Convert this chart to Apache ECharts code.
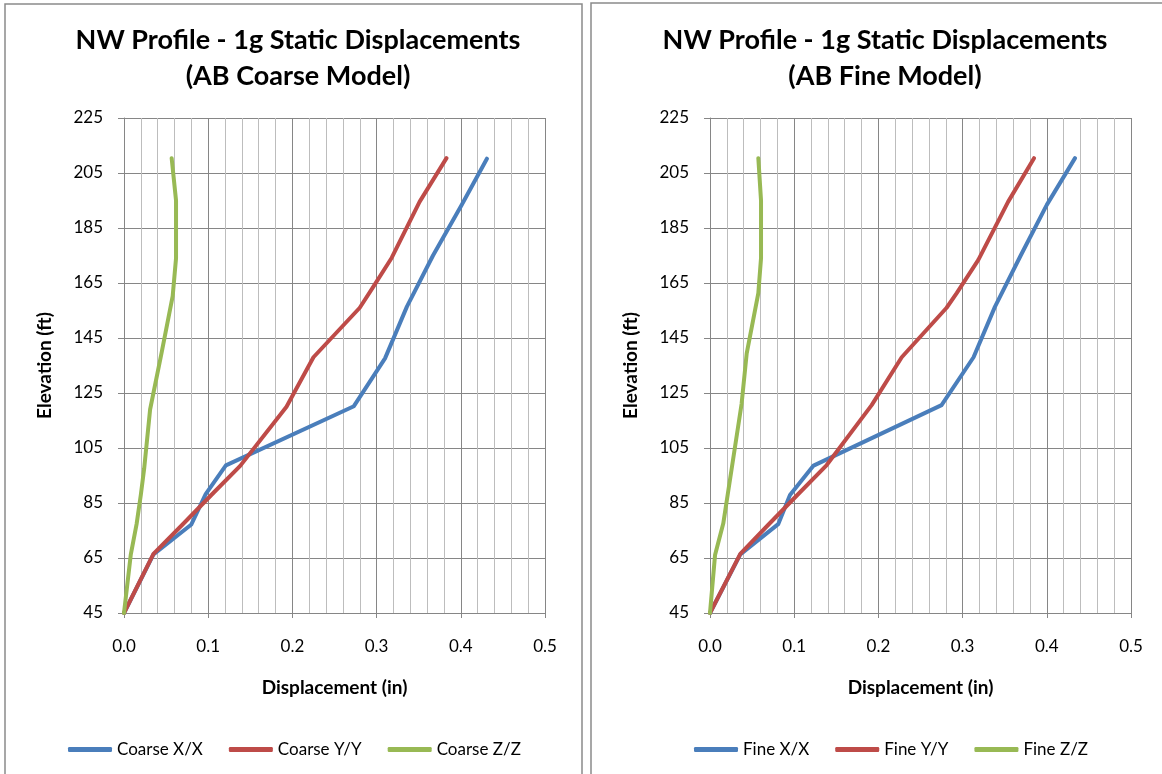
<!DOCTYPE html>
<html>
<head>
<meta charset="utf-8">
<script src="https://cdn.jsdelivr.net/npm/echarts@6/dist/echarts.min.js"></script>
<style>
html,body{margin:0;padding:0;background:#fff;}
#c{width:1162px;height:774px;}
</style>
</head>
<body>
<div id="c"></div>
<script>
// ---- Data (displacement in, elevation ft) ----
const coarseX = [[0,45],[0.035,66.3],[0.080,77.2],[0.097,88.2],[0.121,98.7],[0.273,120.2],[0.310,137.6],[0.336,156.4],[0.367,175],[0.401,193.4],[0.431,210.2]];
const coarseY = [[0,45],[0.035,66.5],[0.069,77],[0.104,88],[0.138,98.5],[0.193,120],[0.225,138],[0.280,156],[0.296,163.6],[0.318,174.2],[0.351,194.5],[0.383,210.4]];
const coarseZ = [[0,45],[0.008,66.1],[0.015,77.4],[0.020,88],[0.024,97.6],[0.031,119],[0.0445,139.4],[0.0578,160.2],[0.0618,174],[0.0618,195],[0.0566,210.4]];

const fineX = [[0,45],[0.036,66.3],[0.081,77.3],[0.095,87.9],[0.123,98.6],[0.275,120.6],[0.313,138],[0.3385,156.4],[0.369,175],[0.400,193.4],[0.4335,210.4]];
const fineY = [[0,45],[0.036,66.5],[0.069,77],[0.104,88],[0.1386,98.8],[0.192,120.6],[0.2277,138],[0.281,156],[0.293,161.3],[0.3187,173.4],[0.354,194.5],[0.3848,210.4]];
const fineZ = [[0,45],[0.006,66.1],[0.0158,77.6],[0.021,88],[0.026,98],[0.0375,121],[0.0436,139.4],[0.0574,161.3],[0.0606,174],[0.0606,195],[0.0574,210.4]];

const titles = ['NW Profile - 1g Static Displacements\n(AB Coarse Model)', 'NW Profile - 1g Static Displacements\n(AB Fine Model)'];
const leftNames = ['Coarse X/X','Coarse Y/Y','Coarse Z/Z'];
const rightNames = ['Fine X/X','Fine Y/Y','Fine Z/Z'];
const xTicks = {min:0, max:0.5, interval:0.1};
const yTicks = {min:45, max:225, interval:20};
const xName = 'Displacement (in)';
const yName = 'Elevation (ft)';

const colors = ['#4A7EBB','#BE4B48','#98B954'];
const FONT = 'Lato, "Open Sans", sans-serif';

function xAxisCfg(gi){
  return {
    type:'value', gridIndex:gi, min:xTicks.min, max:xTicks.max, interval:xTicks.interval,
    name:xName, nameLocation:'middle', nameGap:65,
    nameTextStyle:{fontFamily:FONT, fontWeight:'bold', fontSize:19, color:'#000'},
    axisLine:{show:true, lineStyle:{color:'#868686', width:1}},
    axisTick:{show:true, inside:false, length:5, lineStyle:{color:'#868686'}},
    axisLabel:{margin:25, fontFamily:FONT, fontSize:17, color:'#000', formatter:v=>v.toFixed(1)},
    splitLine:{show:true, lineStyle:{color:'#868686', width:1}},
    minorTick:{show:false, splitNumber:5},
    minorSplitLine:{show:true, lineStyle:{color:'#bdbdbd', width:1}}
  };
}
function yAxisCfg(gi){
  return {
    type:'value', gridIndex:gi, min:yTicks.min, max:yTicks.max, interval:yTicks.interval,
    name:yName, nameLocation:'middle', nameGap:70, nameRotate:90,
    nameTextStyle:{fontFamily:FONT, fontWeight:'bold', fontSize:19, color:'#000'},
    axisLine:{show:true, lineStyle:{color:'#868686', width:1}},
    axisTick:{show:true, inside:false, length:6, lineStyle:{color:'#868686'}},
    axisLabel:{margin:21, fontFamily:FONT, fontSize:17, color:'#000'},
    splitLine:{show:true, lineStyle:{color:'#868686', width:1}}
  };
}
function mk(name, data, ci, gi){
  return {name, type:'line', data, xAxisIndex:gi, yAxisIndex:gi, showSymbol:false, symbol:'none',
    lineStyle:{color:colors[ci], width:4, cap:'round', join:'round'}, itemStyle:{color:colors[ci]},
    z:3, animation:false};
}

const chart = echarts.init(document.getElementById('c'), null, {renderer:'canvas'});
chart.setOption({
  backgroundColor:'#fff',
  animation:false,
  title:[
    {text:titles[0], left:293, top:17, textAlign:'center',
     textStyle:{fontFamily:FONT, fontWeight:'bold', fontSize:27, lineHeight:36, color:'#000'}},
    {text:titles[1], left:880, top:17, textAlign:'center',
     textStyle:{fontFamily:FONT, fontWeight:'bold', fontSize:27, lineHeight:36, color:'#000'}}
  ],
  grid:[
    {left:124, top:118, width:421, height:495},
    {left:710, top:118, width:421, height:495}
  ],
  xAxis:[xAxisCfg(0), xAxisCfg(1)],
  yAxis:[yAxisCfg(0), yAxisCfg(1)],
  legend:[
    {data:leftNames, left:63, top:736, itemWidth:44, itemHeight:5, itemGap:26, icon:'roundRect',
     textStyle:{fontFamily:FONT, fontSize:17, color:'#000'}},
    {data:rightNames, left:689, top:736, itemWidth:44, itemHeight:5, itemGap:26, icon:'roundRect',
     textStyle:{fontFamily:FONT, fontSize:17, color:'#000'}}
  ],
  graphic:[
    {type:'rect', shape:{x:5, y:4, width:577, height:820}, style:{fill:null, stroke:'#8a8a8a', lineWidth:1.5}, silent:true},
    {type:'rect', shape:{x:591, y:3, width:620, height:820}, style:{fill:null, stroke:'#8a8a8a', lineWidth:1.5}, silent:true}
  ],
  series:[
    mk(leftNames[0], coarseX, 0, 0),
    mk(leftNames[1], coarseY, 1, 0),
    mk(leftNames[2], coarseZ, 2, 0),
    mk(rightNames[0], fineX, 0, 1),
    mk(rightNames[1], fineY, 1, 1),
    mk(rightNames[2], fineZ, 2, 1)
  ]
});
</script>
</body>
</html>
